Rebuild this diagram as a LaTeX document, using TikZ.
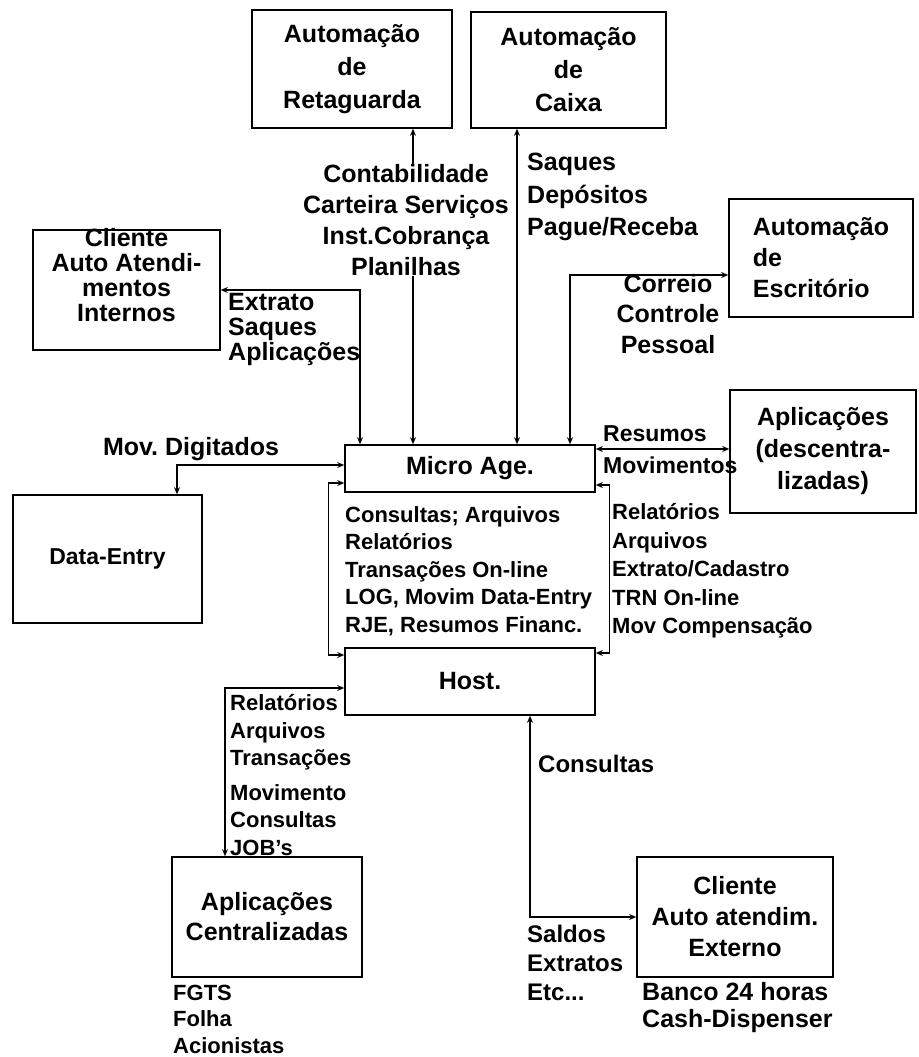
\documentclass[tikz,border=0pt]{standalone}
\usepackage{fontspec}
\setmainfont{Liberation Sans}
\usetikzlibrary{arrows.meta}
\frenchspacing
\begin{document}
\begin{tikzpicture}[x=1pt,y=-1pt,
  box/.style={draw, line width=1.6pt, inner sep=0pt, align=center,
    font=\bfseries\fontsize{25}{33}\selectfont},
  boxtxt/.style={inner sep=0pt, align=center, font=\bfseries\fontsize{25}{25}\selectfont},
  big/.style={inner sep=0pt, font=\bfseries\fontsize{25}{31}\selectfont},
  mid/.style={inner sep=0pt, align=left, font=\bfseries\fontsize{24}{29}\selectfont},
  sml/.style={inner sep=0pt, align=left, font=\bfseries\fontsize{22}{27.5}\selectfont},
  conn/.style={line width=1.3pt, {Stealth[length=7pt,width=6pt]}-{Stealth[length=7pt,width=6pt]}},
]
\useasboundingbox (0,0) rectangle (918,1057);

% boxes
\node[box, minimum width=200pt, minimum height=118pt] (ret) at (352,69) {Automação\\de\\Retaguarda};
\node[box, minimum width=195pt, minimum height=116pt] (cai) at (568.5,70) {Automação\\de\\Caixa};
\node[box, align=left, minimum width=184pt, minimum height=118pt,
  font=\bfseries\fontsize{25}{31}\selectfont] (esc) at (821,258) {Automação\\de\\Escritório};
\node[box, minimum width=187pt, minimum height=120pt] (cli) at (126.5,290) {};
\node[boxtxt] (clitxt) at (126.5,275) {Cliente\\Auto Atendi-\\mentos\\Internos};
\node[box, minimum width=189pt, minimum height=128pt, font=\bfseries\fontsize{23}{28}\selectfont] (de) at (107.5,559) {Data-Entry};
\node[box, minimum width=250pt, minimum height=47pt] (mic) at (470,468.5) {Micro Age.};
\node[box, minimum width=250pt, minimum height=67pt] (host) at (470,681.5) {Host.};
\node[box, minimum width=186pt, minimum height=123pt, font=\bfseries\fontsize{25}{32}\selectfont] (apd) at (823,451.5) {Aplicações\\(descentra-\\lizadas)};
\node[box, minimum width=190pt, minimum height=120pt, font=\bfseries\fontsize{25}{30}\selectfont] (apc) at (267,917) {Aplicações\\Centralizadas};
\node[box, minimum width=196pt, minimum height=120pt, font=\bfseries\fontsize{25}{31}\selectfont] (cle) at (735,917) {Cliente\\Auto atendim.\\Externo};

% helper coordinates
\coordinate (x1) at (413,0);
\coordinate (x2) at (517,0);
\coordinate (x3) at (570,0);
\coordinate (y3) at (0,275);
\coordinate (x4) at (360,0);
\coordinate (x5) at (177,0);
\coordinate (y5) at (0,465);
\coordinate (y6a) at (0,483);
\coordinate (y6b) at (0,655);
\coordinate (y7a) at (0,485);
\coordinate (y7b) at (0,653);
\coordinate (y8) at (0,449);
\coordinate (y9) at (0,688);
\coordinate (x9) at (225,0);
\coordinate (x10) at (530,0);

% connectors
\draw[conn] (ret.south -| x1) -- (mic.north -| x1);
\draw[conn] (cai.south -| x2) -- (mic.north -| x2);
\draw[conn] (esc.west |- y3) -| (mic.north -| x3);
\draw[conn] (cli.east) -| (mic.north -| x4);
\draw[conn] (de.north -| x5) |- (mic.west |- y5);
\draw[conn] (mic.west |- y6a) -- ++(-16,0) |- (host.west |- y6b);
\draw[conn] (mic.east |- y7a) -- ++(14,0) |- (host.east |- y7b);
\draw[conn] (mic.east |- y8) -- (apd.west |- y8);
\draw[conn] (host.west |- y9) -| (apc.north -| x9);
\draw[conn] (host.south -| x10) |- (cle.west);

% labels
\node[big, align=center, fill=white] (l1) at (406,220) {Contabilidade\\Carteira Serviços\\Inst.Cobrança\\Planilhas};
\node[big, align=left, anchor=west, font=\bfseries\fontsize{25}{32.5}\selectfont] (l2) at (527,197) {Saques\\Depósitos\\Pague/Receba};
\node[big, align=center, font=\bfseries\fontsize{25}{30.5}\selectfont] (l3) at (668,314) {Correio\\Controle\\Pessoal};
\node[big, align=left, anchor=west, font=\bfseries\fontsize{25}{25}\selectfont] (l4) at (228,329) {Extrato\\Saques\\Aplicações};
\node[big] (l5) at (191,449) {Mov. Digitados};
\node[sml, anchor=west] (l6) at (345,571) {Consultas; Arquivos\\Relatórios\\Transações On-line\\LOG, Movim Data-Entry\\RJE, Resumos Financ.};
\node[sml, anchor=west, font=\bfseries\fontsize{22}{28.5}\selectfont] (l7) at (612,571) {Relatórios\\Arquivos\\Extrato/Cadastro\\TRN On-line\\Mov Compensação};
\node[big, align=left, anchor=west, font=\bfseries\fontsize{23}{32}\selectfont] (l8) at (603,450) {Resumos\\Movimentos};
\node[sml, anchor=west] (l9) at (230,775) {Relatórios\\Arquivos\\Transações\\[7pt]Movimento\\Consultas\\JOB's};
\node[mid, anchor=west] (l10) at (538,764) {Consultas};
\node[mid, anchor=west] (l11) at (527,963) {Saldos\\Extratos\\Etc...};
\node[big, align=left, anchor=west, font=\bfseries\fontsize{25}{27}\selectfont] (l12) at (642,1008) {Banco 24 horas\\Cash-Dispenser};
\node[sml, anchor=west, font=\bfseries\fontsize{22}{26.5}\selectfont] (l13) at (173,1019) {FGTS\\Folha\\Acionistas};
\end{tikzpicture}
\end{document}
